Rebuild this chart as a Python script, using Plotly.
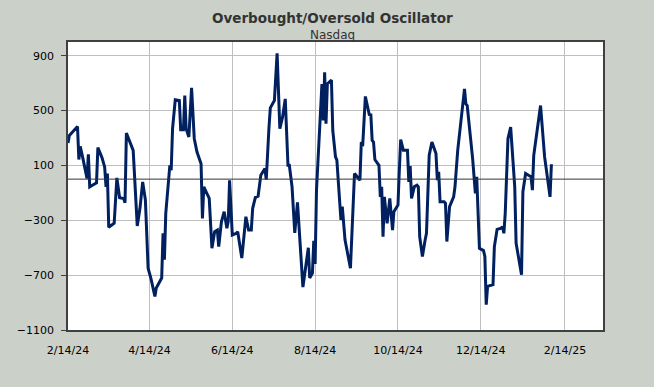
import plotly.graph_objects as go

dates = [
    "2024-02-14", "2024-02-15", "2024-02-18", "2024-02-21", "2024-02-22", "2024-02-23", "2024-02-25",
    "2024-02-27", "2024-02-28", "2024-02-29", "2024-03-01", "2024-03-03", "2024-03-06", "2024-03-07",
    "2024-03-10", "2024-03-12", "2024-03-13", "2024-03-14", "2024-03-15", "2024-03-19", "2024-03-21",
    "2024-03-23", "2024-03-26", "2024-03-27", "2024-03-28", "2024-04-02", "2024-04-03", "2024-04-05",
    "2024-04-07", "2024-04-09", "2024-04-11", "2024-04-13", "2024-04-15", "2024-04-18", "2024-04-19",
    "2024-04-23", "2024-04-24", "2024-04-25", "2024-04-26", "2024-04-29", "2024-04-30", "2024-05-01",
    "2024-05-03", "2024-05-06", "2024-05-07", "2024-05-09", "2024-05-10", "2024-05-11", "2024-05-13",
    "2024-05-15", "2024-05-17", "2024-05-19", "2024-05-22", "2024-05-23", "2024-05-24", "2024-05-28",
    "2024-05-30", "2024-06-01", "2024-06-03", "2024-06-04", "2024-06-06", "2024-06-08", "2024-06-10",
    "2024-06-11", "2024-06-12", "2024-06-14", "2024-06-17", "2024-06-18", "2024-06-21", "2024-06-24",
    "2024-06-26", "2024-06-28", "2024-06-29", "2024-07-01", "2024-07-03", "2024-07-04", "2024-07-05",
    "2024-07-08", "2024-07-09", "2024-07-11", "2024-07-12", "2024-07-15", "2024-07-17", "2024-07-19",
    "2024-07-21", "2024-07-23", "2024-07-25", "2024-07-26", "2024-07-28", "2024-07-30", "2024-08-01",
    "2024-08-05", "2024-08-09", "2024-08-10", "2024-08-12", "2024-08-13", "2024-08-14", "2024-08-15",
    "2024-08-17", "2024-08-19", "2024-08-20", "2024-08-21", "2024-08-22", "2024-08-23", "2024-08-26",
    "2024-08-27", "2024-08-29", "2024-08-30", "2024-09-02", "2024-09-03", "2024-09-05", "2024-09-09",
    "2024-09-12", "2024-09-16", "2024-09-17", "2024-09-18", "2024-09-20", "2024-09-22", "2024-09-23",
    "2024-09-24", "2024-09-25", "2024-09-26", "2024-09-27", "2024-09-30", "2024-10-01", "2024-10-02",
    "2024-10-03", "2024-10-04", "2024-10-05", "2024-10-06", "2024-10-08", "2024-10-10", "2024-10-11",
    "2024-10-14", "2024-10-15", "2024-10-16", "2024-10-18", "2024-10-21", "2024-10-22", "2024-10-23",
    "2024-10-24", "2024-10-26", "2024-10-28", "2024-10-29", "2024-10-30", "2024-11-01", "2024-11-03",
    "2024-11-04", "2024-11-06", "2024-11-08", "2024-11-11", "2024-11-12", "2024-11-13", "2024-11-14",
    "2024-11-17", "2024-11-18", "2024-11-19", "2024-11-21", "2024-11-24", "2024-11-25", "2024-11-27",
    "2024-11-29", "2024-12-02", "2024-12-03", "2024-12-04", "2024-12-08", "2024-12-10", "2024-12-11",
    "2024-12-13", "2024-12-16", "2024-12-17", "2024-12-18", "2024-12-19", "2024-12-23", "2024-12-24",
    "2024-12-26", "2024-12-29", "2024-12-30", "2024-12-31", "2025-01-01", "2025-01-03", "2025-01-05",
    "2025-01-07", "2025-01-08", "2025-01-09", "2025-01-13", "2025-01-14", "2025-01-16", "2025-01-20",
    "2025-01-21", "2025-01-22", "2025-01-24", "2025-01-27", "2025-01-30", "2025-02-03", "2025-02-04",
]

oscillator = [
    264, 319, 351, 384, 143, 239, 150,
    41, 5, 181, -56, -44, -27, 230,
    157, 89, -56, 41, -351, -322, 9,
    -136, -141, -172, 336, 210, 41, -341,
    -213, -20, -153, -649, -721, -855, -794,
    -721, -395, -588, -250, 101, 65, 368,
    578, 573, 360, 360, 610, 368, 307,
    665, 295, 198, 113, -286, -56, -141,
    -504, -383, -371, -492, -310, -237, -358,
    -310, -8, -407, -395, -383, -576, -274,
    -371, -371, -213, -133, -124, -20, 29,
    77, -3, 375, 520, 573, 917, 368,
    452, 585, 101, 101, -56, -392, -170,
    -787, -500, -721, -685, -449, -618, -80,
    283, 694, 428, 779, 404, 694, 723,
    355, 162, 138, -298, -201, -443, -649,
    41, -8, 271, 240, 603, 513, 464,
    476, 283, 271, 143, 101, -129, -56,
    -419, -129, -225, -322, -141, -371, -237,
    -189, 65, 288, 210, 210, -20, 96,
    -141, -56, -44, -56, -419, -564, -443,
    -395, 174, 271, 186, -8, 53, -165,
    -165, -177, -455, -201, -129, -56, 210,
    404, 658, 549, 537, 150, -104, 17,
    -504, -521, -564, -915, -782, -770, -492,
    -366, -358, -346, -395, -250, 295, 380,
    65, -56, -467, -697, -92, 41, 17,
    -80, 174, 319, 537, 162, -129, 109,
]

x_ticks = ["2024-02-14", "2024-04-14", "2024-06-14", "2024-08-14", "2024-10-14", "2024-12-14", "2025-02-14"]
x_tick_labels = ["2/14/24", "4/14/24", "6/14/24", "8/14/24", "10/14/24", "12/14/24", "2/14/25"]
y_ticks = [-1100, -700, -300, 100, 500, 900]

title_text = "Overbought/Oversold Oscillator"
subtitle_text = "Nasdaq"

FONT = "DejaVu Sans, Verdana, sans-serif"

fig = go.Figure()
fig.add_trace(go.Scatter(
    x=dates, y=oscillator, mode="lines",
    line=dict(color="#002060", width=3),
    hoverinfo="x+y", showlegend=False,
))

fig.add_shape(type="line", xref="paper", x0=0, x1=1, yref="y", y0=0, y1=0,
              line=dict(color="#333333", width=1), layer="above")

fig.add_annotation(
    text="<b>" + title_text + "</b>", xref="paper", yref="paper",
    x=0.495, y=1.0833, xanchor="center", yanchor="middle", showarrow=False,
    font=dict(family=FONT, size=13.5, color="#333333"),
)
fig.add_annotation(
    text=subtitle_text, xref="paper", yref="paper",
    x=0.495, y=1.0243, xanchor="center", yanchor="middle", showarrow=False,
    font=dict(family=FONT, size=12, color="#333333"),
)

fig.update_layout(
    width=654, height=387,
    paper_bgcolor="#CBD0C9", plot_bgcolor="#FFFFFF",
    margin=dict(l=68, r=51, t=42, b=57),
    font=dict(family=FONT, size=11, color="#000000"),
    xaxis=dict(
        range=["2024-02-14", "2025-03-14"],
        tickvals=x_ticks, ticktext=x_tick_labels,
        showgrid=True, gridcolor="#BFBFBF", gridwidth=1,
        showline=True, linecolor="#404040", linewidth=1.5, mirror=True,
        ticks="", zeroline=False, ticklabelstandoff=9,
    ),
    yaxis=dict(
        range=[-1100, 1000],
        tickvals=y_ticks,
        showgrid=True, gridcolor="#BFBFBF", gridwidth=1,
        showline=True, linecolor="#404040", linewidth=1.5, mirror=True,
        ticks="outside", ticklen=5, tickcolor="#404040",
        zeroline=False, ticklabelstandoff=5,
    ),
)

fig.write_html(
    "out.html",
    config={"displayModeBar": False},
    post_script="document.body.style.margin='0';document.body.style.overflow='hidden';",
)
